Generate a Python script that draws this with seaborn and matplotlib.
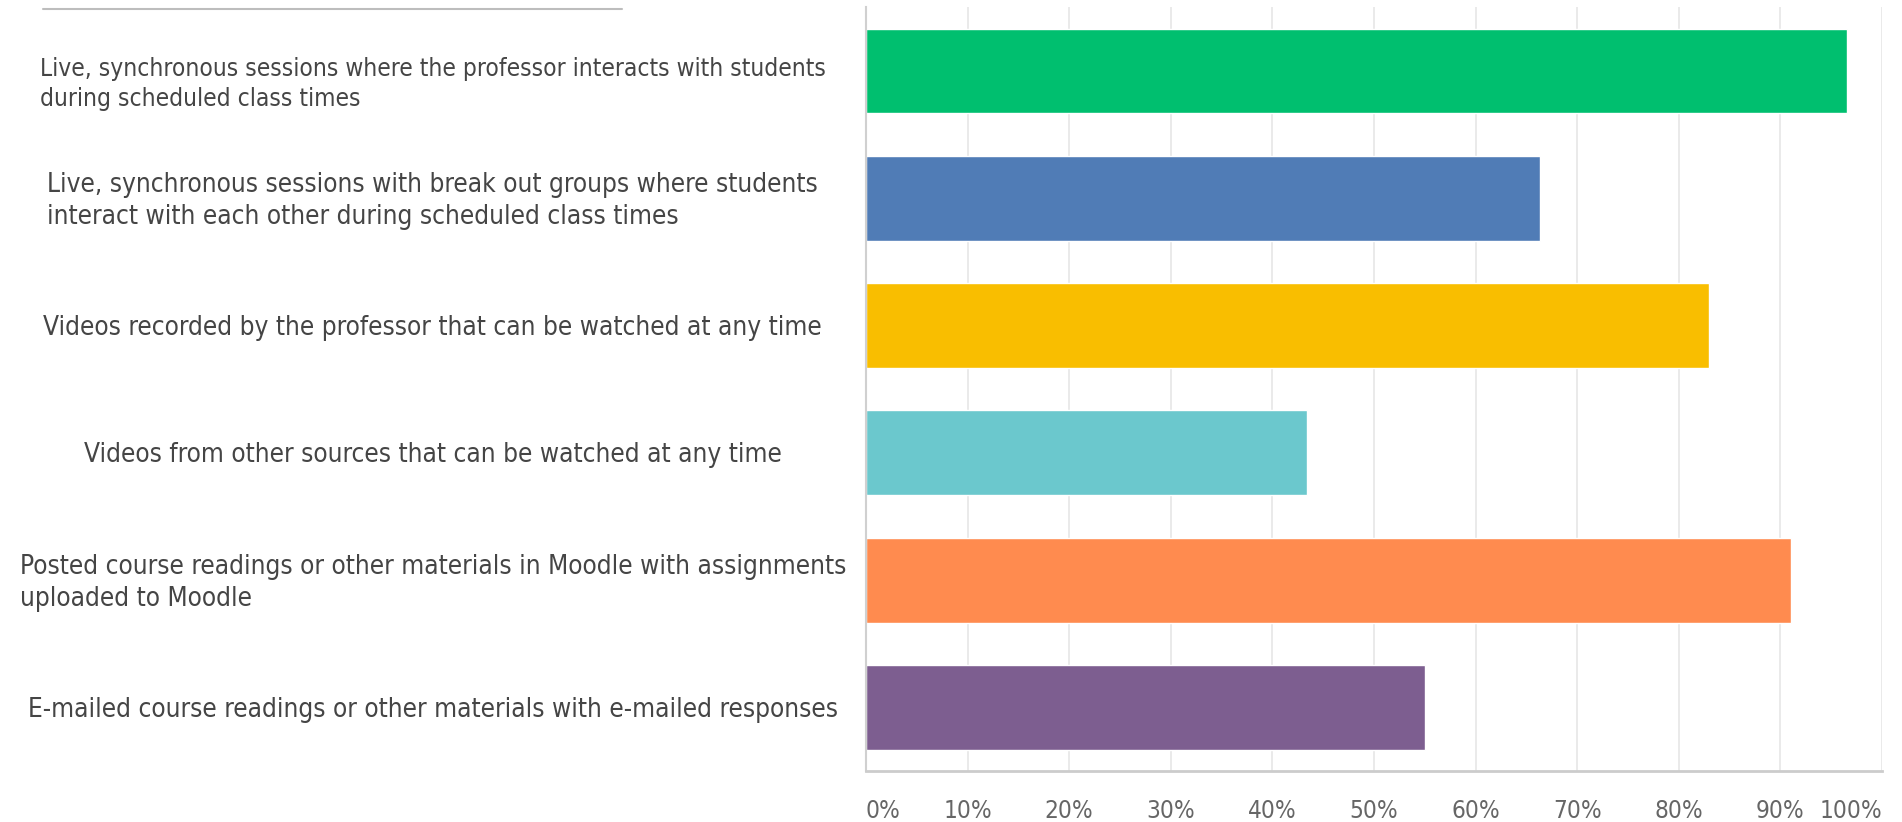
import numpy as np
import pandas as pd
import matplotlib
matplotlib.use('Agg')
import matplotlib.pyplot as plt
import matplotlib.transforms as mtransforms
import seaborn as sns

# Answer options (as shown on the y axis)
options = [
    "Live, synchronous sessions where the professor interacts with students\nduring scheduled class times",
    "Live, synchronous sessions with break out groups where students\ninteract with each other during scheduled class times",
    "Videos recorded by the professor that can be watched at any time",
    "Videos from other sources that can be watched at any time",
    "Posted course readings or other materials in Moodle with assignments\nuploaded to Moodle",
    "E-mailed course readings or other materials with e-mailed responses",
]
# Share of respondents (%)
shares = [96.6, 66.3, 83.0, 43.4, 91.0, 55.0]
colors = ["#00BF6F", "#507CB6", "#F9BE00", "#6BC8CD", "#FF8B4F", "#7D5E90"]
ticks = [0, 10, 20, 30, 40, 50, 60, 70, 80, 90, 100]
tick_labels = [f"{t}%" for t in ticks]

df = pd.DataFrame({"option": options, "share": shares})

sns.set_style("white")
plt.rcParams['font.family'] = ['DejaVu Sans']

fig = plt.figure(figsize=(19.02, 8.22), dpi=100)
ax = fig.add_axes([0.4553, 0.062, 0.5342, 0.929])

sns.barplot(data=df, x="share", y="option", hue="option", palette=colors,
            width=0.667, legend=False, orient="h", ax=ax, saturation=1)

ax.set_xlim(0, 100)
ax.set_ylim(5.5, -0.5)
ax.set_xlabel("")
ax.set_ylabel("")

# vertical grid
ax.set_xticks(ticks)
ax.xaxis.grid(True, color="#e6e6e6", linewidth=1.2)
ax.set_axisbelow(True)
for s in ["top", "right"]:
    ax.spines[s].set_visible(False)
ax.spines["left"].set_color("#d0d0d0")
ax.spines["left"].set_linewidth(1.5)
ax.spines["bottom"].set_color("#cccccc")
ax.spines["bottom"].set_linewidth(2)

# tick labels, first and last flush with the axis ends
ax.set_xticklabels(tick_labels, fontsize=17.5, color="#666666", fontstretch="condensed")
ax.tick_params(axis="x", length=0, pad=20)
lbls = ax.get_xticklabels()
lbls[0].set_horizontalalignment("left")
lbls[-1].set_horizontalalignment("right")

# category labels: centered block, lines left aligned
# (the first one is a little smaller and sits lower in the screenshot)
ax.set_yticks([])
trans = mtransforms.blended_transform_factory(fig.transFigure, ax.transData)
for i, opt in enumerate(options):
    size = 17.6 if i == 0 else 18.8
    dy = 0.1 if i == 0 else 0.02
    ax.text(0.2275, i + dy, opt, transform=trans,
            ha="center", va="center", multialignment="left", fontsize=size,
            color="#454545", linespacing=1.3, fontstretch="condensed")

# leftover rule at the top-left of the crop
fig.add_artist(plt.Line2D([43 / 1902, 622 / 1902], [1 - 9 / 822, 1 - 9 / 822],
                          color="#bdbdbd", linewidth=1.5))

fig.savefig("out.png", dpi=100)
